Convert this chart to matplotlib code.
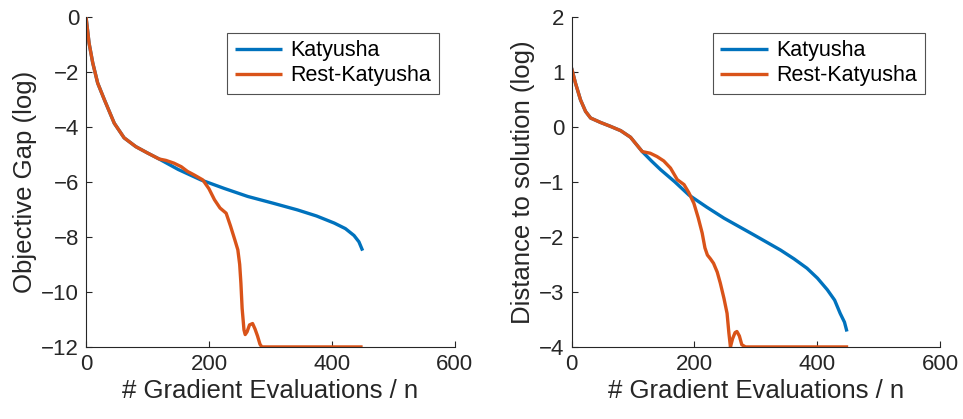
import matplotlib
matplotlib.use("Agg")
import matplotlib.pyplot as plt

plt.rcParams['font.family'] = ['Liberation Sans', 'DejaVu Sans']

# objective gap (log) vs gradient evaluations / n
gap_katyusha_x = [0, 5, 11, 19, 30, 46, 62, 81, 100, 119, 150, 187, 225, 263, 305, 344, 375, 404, 422, 436, 444, 450]
gap_katyusha_y = [0, -0.96, -1.68, -2.41, -3.02, -3.87, -4.4, -4.72, -4.95, -5.17, -5.55, -5.93, -6.24, -6.53, -6.78, -7.02, -7.24, -7.5, -7.7, -7.95, -8.18, -8.5]
gap_rest_x = [0, 5, 11, 19, 30, 46, 62, 81, 100, 119, 130, 143, 155, 165, 176, 190, 200, 209, 218, 228, 235, 242, 247, 250, 252, 254, 257, 259, 262, 266, 271, 275, 279, 283, 286, 320, 380, 450]
gap_rest_y = [0, -0.96, -1.68, -2.41, -3.02, -3.87, -4.4, -4.72, -4.95, -5.17, -5.22, -5.32, -5.45, -5.62, -5.75, -5.93, -6.25, -6.65, -6.95, -7.14, -7.6, -8.1, -8.47, -9.0, -9.68, -10.6, -11.38, -11.55, -11.45, -11.2, -11.15, -11.35, -11.6, -11.9, -12, -12, -12, -12]

# distance to solution (log) vs gradient evaluations / n
dist_katyusha_x = [0, 6.5, 14.6, 22.8, 31, 47, 63, 80, 96, 115, 130, 145, 168, 191, 220, 248, 272, 296, 318, 340, 362, 383, 400, 416, 428, 437, 444, 448]
dist_katyusha_y = [1.07, 0.79, 0.49, 0.28, 0.16, 0.08, 0.01, -0.07, -0.19, -0.45, -0.62, -0.78, -1.0, -1.24, -1.46, -1.66, -1.81, -1.96, -2.1, -2.24, -2.4, -2.57, -2.75, -2.96, -3.15, -3.39, -3.55, -3.72]
dist_rest_x = [0, 6.5, 14.6, 22.8, 31, 47, 63, 80, 96, 115, 128, 139, 150, 161, 172, 183, 191, 199, 206, 212.5, 217, 221, 226, 231, 237, 242, 248, 253, 256, 258.5, 262, 266, 269, 273, 277, 283, 320, 380, 450]
dist_rest_y = [1.07, 0.79, 0.49, 0.28, 0.16, 0.08, 0.01, -0.07, -0.19, -0.45, -0.48, -0.54, -0.62, -0.75, -0.96, -1.05, -1.2, -1.39, -1.65, -1.93, -2.2, -2.33, -2.4, -2.48, -2.64, -2.84, -3.12, -3.39, -3.75, -4.0, -3.85, -3.74, -3.72, -3.8, -3.96, -4.0, -4.0, -4.0, -4.0]

blue = '#0072BD'
orange = '#D95319'
axis_col = '#262626'

fig = plt.figure(figsize=(9.63, 4.19), dpi=100)
ax1 = fig.add_axes([0.0893, 0.172, 0.383, 0.788])
ax2 = fig.add_axes([0.5935, 0.172, 0.383, 0.788])

panels = [
    (ax1, gap_katyusha_x, gap_katyusha_y, gap_rest_x, gap_rest_y,
     'Objective Gap (log)', (-12, 0), range(-12, 1, 2)),
    (ax2, dist_katyusha_x, dist_katyusha_y, dist_rest_x, dist_rest_y,
     'Distance to solution (log)', (-4, 2), range(-4, 3)),
]

for ax, kx, ky, rx, ry, ylab, ylim, yt in panels:
    ax.plot(kx, ky, color=blue, lw=2.4, label='Katyusha', solid_capstyle='butt')
    ax.plot(rx, ry, color=orange, lw=2.4, label='Rest-Katyusha', solid_capstyle='butt')
    ax.set_xlim(0, 600)
    ax.set_ylim(*ylim)
    ax.set_xticks([0, 200, 400, 600])
    ax.set_yticks(list(yt))
    ax.set_xlabel('# Gradient Evaluations / n', fontsize=18.5, color=axis_col, labelpad=3)
    ax.set_ylabel(ylab, fontsize=18.5, color=axis_col, labelpad=3)
    for side in ['top', 'right']:
        ax.spines[side].set_visible(False)
    for side in ['left', 'bottom']:
        ax.spines[side].set_color(axis_col)
        ax.spines[side].set_linewidth(0.8)
    ax.tick_params(direction='in', length=4, width=0.8, colors=axis_col,
                   labelsize=16, pad=5)
    leg = ax.legend(loc='upper right', bbox_to_anchor=(0.957, 0.952), fontsize=15.5,
                    frameon=True, fancybox=False, borderpad=0.35, handlelength=2.2,
                    handletextpad=0.4, labelspacing=0.2, borderaxespad=0)
    leg.get_frame().set_edgecolor('#262626')
    leg.get_frame().set_linewidth(0.8)

fig.savefig('out.png', dpi=100)
